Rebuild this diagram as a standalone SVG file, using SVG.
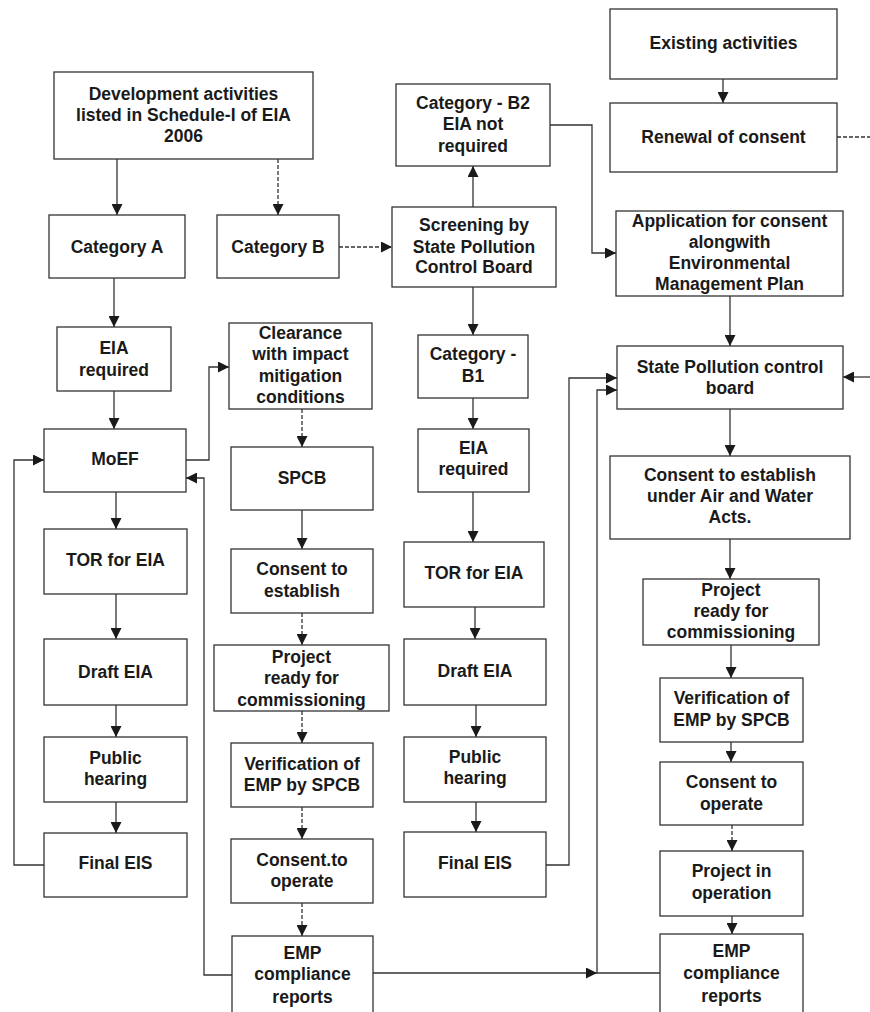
<svg xmlns="http://www.w3.org/2000/svg" width="870" height="1012" viewBox="0 0 870 1012">
<style>
.box{fill:#fff;stroke:#333;stroke-width:1.3}
.t{font-family:"Liberation Sans",Arial,sans-serif;font-weight:bold;font-size:17.5px;fill:#1a1a1a;text-anchor:middle}
.c{fill:none;stroke:#333;stroke-width:1.3}
.d{stroke-dasharray:4 2}
</style>
<defs>
<marker id="ah" markerUnits="userSpaceOnUse" markerWidth="11" markerHeight="11" refX="11" refY="5.5" orient="auto">
<path d="M0,0 L11,5.5 L0,11 z" fill="#1a1a1a"/>
</marker>
</defs>
<rect width="870" height="1012" fill="#fff"/>
<g id="connectors">
<path class="c" d="M117,159 V215" marker-end="url(#ah)"/>
<path class="c d" d="M278,159 V215" marker-end="url(#ah)"/>
<path class="c" d="M114,278 V327" marker-end="url(#ah)"/>
<path class="c" d="M114,391 V429" marker-end="url(#ah)"/>
<path class="c" d="M116,492 V529" marker-end="url(#ah)"/>
<path class="c" d="M116,594 V639" marker-end="url(#ah)"/>
<path class="c" d="M116,705 V737" marker-end="url(#ah)"/>
<path class="c" d="M116,802 V833" marker-end="url(#ah)"/>
<path class="c" d="M44,865 H14 V460 H44" marker-end="url(#ah)"/>
<path class="c" d="M186,460 H209 V367 H229" marker-end="url(#ah)"/>
<path class="c d" d="M302,409 V447" marker-end="url(#ah)"/>
<path class="c" d="M302,510 V549" marker-end="url(#ah)"/>
<path class="c d" d="M302,613 V645" marker-end="url(#ah)"/>
<path class="c d" d="M302,711 V743" marker-end="url(#ah)"/>
<path class="c d" d="M302,807 V839" marker-end="url(#ah)"/>
<path class="c d" d="M302,903 V936" marker-end="url(#ah)"/>
<path class="c" d="M232,975 H204 V478 H186" marker-end="url(#ah)"/>
<path class="c" d="M373,973 H597" marker-end="url(#ah)"/>
<path class="c" d="M660,973 H597 V390 H617" marker-end="url(#ah)"/>
<path class="c d" d="M339,247 H392" marker-end="url(#ah)"/>
<path class="c" d="M473,207 V166" marker-end="url(#ah)"/>
<path class="c" d="M473,287 V335" marker-end="url(#ah)"/>
<path class="c" d="M473,398 V429" marker-end="url(#ah)"/>
<path class="c" d="M473,492 V542" marker-end="url(#ah)"/>
<path class="c" d="M475,607 V639" marker-end="url(#ah)"/>
<path class="c" d="M476,705 V737" marker-end="url(#ah)"/>
<path class="c" d="M476,802 V832" marker-end="url(#ah)"/>
<path class="c" d="M546,865 H569 V378 H617" marker-end="url(#ah)"/>
<path class="c" d="M550,125 H592 V253 H616" marker-end="url(#ah)"/>
<path class="c" d="M723,79 V103" marker-end="url(#ah)"/>
<path class="c d" d="M837,137 H870"/>
<path class="c" d="M870,377 H843" marker-end="url(#ah)"/>
<path class="c" d="M730,296 V346" marker-end="url(#ah)"/>
<path class="c" d="M730,409 V456" marker-end="url(#ah)"/>
<path class="c" d="M730,539 V579" marker-end="url(#ah)"/>
<path class="c" d="M731,645 V678" marker-end="url(#ah)"/>
<path class="c" d="M731,742 V762" marker-end="url(#ah)"/>
<path class="c d" d="M732,825 V851" marker-end="url(#ah)"/>
<path class="c" d="M732,916 V934" marker-end="url(#ah)"/>
</g>
<g id="dev"><rect class="box" x="54" y="72" width="259" height="87"/><text class="t" x="183.5" y="100">Development activities</text><text class="t" x="183.5" y="121">listed in Schedule-I of EIA</text><text class="t" x="183.5" y="142">2006</text></g>
<g id="catA"><rect class="box" x="49" y="215" width="136" height="63"/><text class="t" x="117" y="253">Category A</text></g>
<g id="catB"><rect class="box" x="217" y="215" width="122" height="63"/><text class="t" x="278" y="253">Category B</text></g>
<g id="catB2"><rect class="box" x="396" y="84" width="154" height="82"/><text class="t" x="473" y="109">Category - B2</text><text class="t" x="473" y="130">EIA not</text><text class="t" x="473" y="152">required</text></g>
<g id="screening"><rect class="box" x="392" y="207" width="164" height="80"/><text class="t" x="474" y="231">Screening by</text><text class="t" x="474" y="253">State Pollution</text><text class="t" x="474" y="273">Control Board</text></g>
<g id="existing"><rect class="box" x="610" y="9" width="227" height="70"/><text class="t" x="723.5" y="49">Existing activities</text></g>
<g id="renewal"><rect class="box" x="610" y="103" width="227" height="69"/><text class="t" x="723.5" y="143">Renewal of consent</text></g>
<g id="application"><rect class="box" x="616" y="211" width="227" height="85"/><text class="t" x="729.5" y="227">Application for consent</text><text class="t" x="729.5" y="248">alongwith</text><text class="t" x="729.5" y="269">Environmental</text><text class="t" x="729.5" y="290">Management Plan</text></g>
<g id="spcbR"><rect class="box" x="617" y="346" width="226" height="63"/><text class="t" x="730" y="373">State Pollution control</text><text class="t" x="730" y="394">board</text></g>
<g id="consEstR"><rect class="box" x="610" y="456" width="240" height="83"/><text class="t" x="730" y="481">Consent to establish</text><text class="t" x="730" y="502">under Air and Water</text><text class="t" x="730" y="523">Acts.</text></g>
<g id="projReadyR"><rect class="box" x="643" y="579" width="176" height="66"/><text class="t" x="731" y="596">Project</text><text class="t" x="731" y="617">ready for</text><text class="t" x="731" y="638">commissioning</text></g>
<g id="verifR"><rect class="box" x="660" y="678" width="143" height="64"/><text class="t" x="731.5" y="704">Verification of</text><text class="t" x="731.5" y="726">EMP by SPCB</text></g>
<g id="consOpR"><rect class="box" x="660" y="762" width="143" height="63"/><text class="t" x="731.5" y="788">Consent to</text><text class="t" x="731.5" y="810">operate</text></g>
<g id="projOp"><rect class="box" x="660" y="851" width="143" height="65"/><text class="t" x="731.5" y="877">Project in</text><text class="t" x="731.5" y="899">operation</text></g>
<g id="empR"><rect class="box" x="660" y="934" width="143" height="90"/><text class="t" x="731.5" y="957">EMP</text><text class="t" x="731.5" y="979">compliance</text><text class="t" x="731.5" y="1002">reports</text></g>
<g id="eiaReqA"><rect class="box" x="57" y="327" width="114" height="64"/><text class="t" x="114" y="354">EIA</text><text class="t" x="114" y="376">required</text></g>
<g id="moef"><rect class="box" x="44" y="429" width="142" height="63"/><text class="t" x="115" y="465">MoEF</text></g>
<g id="torA"><rect class="box" x="44" y="529" width="143" height="65"/><text class="t" x="115.5" y="566">TOR for EIA</text></g>
<g id="draftA"><rect class="box" x="44" y="639" width="143" height="66"/><text class="t" x="115.5" y="678">Draft EIA</text></g>
<g id="publicA"><rect class="box" x="44" y="737" width="143" height="65"/><text class="t" x="115.5" y="764">Public</text><text class="t" x="115.5" y="785">hearing</text></g>
<g id="finalA"><rect class="box" x="44" y="833" width="143" height="64"/><text class="t" x="115.5" y="869">Final EIS</text></g>
<g id="clearance"><rect class="box" x="229" y="323" width="143" height="86"/><text class="t" x="300.5" y="339">Clearance</text><text class="t" x="300.5" y="360">with impact</text><text class="t" x="300.5" y="382">mitigation</text><text class="t" x="300.5" y="403">conditions</text></g>
<g id="spcbM"><rect class="box" x="231" y="447" width="142" height="63"/><text class="t" x="302" y="484">SPCB</text></g>
<g id="consEstM"><rect class="box" x="231" y="549" width="142" height="64"/><text class="t" x="302" y="575">Consent to</text><text class="t" x="302" y="597">establish</text></g>
<g id="projReadyM"><rect class="box" x="214" y="645" width="175" height="66"/><text class="t" x="301.5" y="663">Project</text><text class="t" x="301.5" y="684">ready for</text><text class="t" x="301.5" y="706">commissioning</text></g>
<g id="verifM"><rect class="box" x="231" y="743" width="142" height="64"/><text class="t" x="302" y="770">Verification of</text><text class="t" x="302" y="791">EMP by SPCB</text></g>
<g id="consOpM"><rect class="box" x="231" y="839" width="142" height="64"/><text class="t" x="302" y="866">Consent.to</text><text class="t" x="302" y="887">operate</text></g>
<g id="empM"><rect class="box" x="232" y="936" width="141" height="90"/><text class="t" x="302.5" y="959">EMP</text><text class="t" x="302.5" y="980">compliance</text><text class="t" x="302.5" y="1003">reports</text></g>
<g id="catB1"><rect class="box" x="418" y="335" width="110" height="63"/><text class="t" x="473" y="360">Category -</text><text class="t" x="473" y="382">B1</text></g>
<g id="eiaB1"><rect class="box" x="418" y="429" width="111" height="63"/><text class="t" x="473.5" y="454">EIA</text><text class="t" x="473.5" y="475">required</text></g>
<g id="torB1"><rect class="box" x="404" y="542" width="140" height="65"/><text class="t" x="474" y="579">TOR for EIA</text></g>
<g id="draftB1"><rect class="box" x="404" y="639" width="142" height="66"/><text class="t" x="475" y="677">Draft EIA</text></g>
<g id="publicB1"><rect class="box" x="404" y="737" width="142" height="65"/><text class="t" x="475" y="763">Public</text><text class="t" x="475" y="784">hearing</text></g>
<g id="finalB1"><rect class="box" x="404" y="832" width="142" height="65"/><text class="t" x="475" y="869">Final EIS</text></g>
</svg>
